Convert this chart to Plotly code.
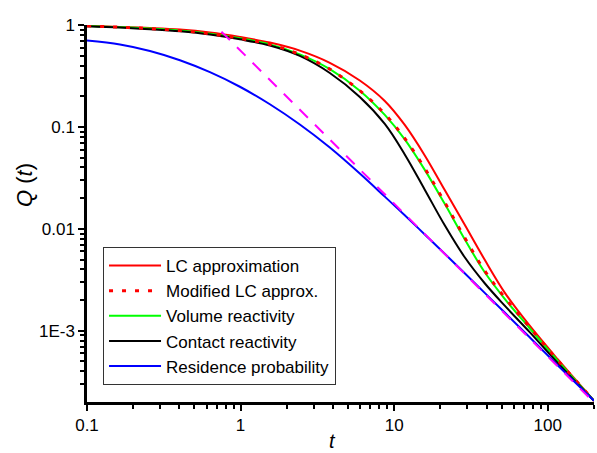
import math
import plotly.graph_objects as go

# ---- data (t, Q(t)) ----
t_grid = [0.1, 0.1639, 0.257, 0.4029, 0.6316, 0.9895, 1.551, 2.431, 3.811, 5.974, 8.687,
          11.72, 15.82, 21.34, 28.80, 38.86, 52.44, 76.27, 116.0, 200]

q_lc = [0.984, 0.958, 0.934, 0.901, 0.844, 0.763, 0.672, 0.560, 0.4254, 0.2857, 0.1798,
        0.1046, 0.0525, 0.0240, 0.01094, 0.00497, 0.00237, 0.00112, 0.000526, 0.000206]

q_mlc = [0.978, 0.9515, 0.922, 0.881, 0.820, 0.741, 0.645, 0.515, 0.3687, 0.2269, 0.1341,
         0.0771, 0.0392, 0.01819, 0.00818, 0.00388, 0.00212, 0.00108, 0.000514, 0.000206]

q_vr = [0.978, 0.9515, 0.922, 0.881, 0.820, 0.741, 0.645, 0.515, 0.3687, 0.2269, 0.1311,
        0.0754, 0.0379, 0.01758, 0.00789, 0.00375, 0.00206, 0.001058, 0.000508, 0.000206]

q_cr = [0.971, 0.943, 0.909, 0.868, 0.807, 0.724, 0.629, 0.497, 0.3383, 0.1968, 0.1070,
        0.0537, 0.0242, 0.01083, 0.00526, 0.002925, 0.001764, 0.000970, 0.000484, 0.000206]

q_rp = [0.705, 0.644, 0.556, 0.451, 0.3444, 0.2478, 0.1668, 0.1056, 0.0628, 0.0349, 0.0207,
        0.01357, 0.00881, 0.00570, 0.00367, 0.002355, 0.001508, 0.000862, 0.000459, 0.000206]

t_asym = [0.75, 200]
q_asym = [0.86, 0.000198]

names = ["LC approximation", "Modified LC approx.", "Volume reactivity",
         "Contact reactivity", "Residence probability"]

x_tickvals = [0.1, 1, 10, 100]
x_ticktext = ["0.1", "1", "10", "100"]
y_tickvals = [1, 0.1, 0.01, 0.001]
y_ticktext = ["1", "0.1", "0.01", "1E-3"]
mult = [2, 3, 4, 5, 6, 7, 8, 9]
x_minor = [m * d for d in [0.1, 1, 10] for m in mult] + [200]
y_minor = [m * d for d in [0.0001, 0.001, 0.01, 0.1] for m in mult if m * d > 0.00021]

FONT = "Liberation Sans, Arial, sans-serif"

fig = go.Figure()
fig.add_trace(go.Scatter(x=t_grid, y=q_lc, name=names[0], mode="lines", legendrank=1,
                         line=dict(color="#FF0000", width=2, shape="spline", smoothing=1)))
fig.add_trace(go.Scatter(x=t_grid, y=q_vr, name=names[2], mode="lines", legendrank=3,
                         line=dict(color="#00FF00", width=2, shape="spline", smoothing=1)))
fig.add_trace(go.Scatter(x=t_grid, y=q_cr, name=names[3], mode="lines", legendrank=4,
                         line=dict(color="#000000", width=2, shape="spline", smoothing=1)))
fig.add_trace(go.Scatter(x=t_grid, y=q_mlc, name=names[1], mode="lines", legendrank=2,
                         line=dict(color="#FF0000", width=3, dash="4px,9px",
                                   shape="spline", smoothing=1)))
fig.add_trace(go.Scatter(x=t_grid, y=q_rp, name=names[4], mode="lines", legendrank=5,
                         line=dict(color="#0000FF", width=2, shape="spline", smoothing=1)))
fig.add_trace(go.Scatter(x=t_asym, y=q_asym, name="asymptote", mode="lines", showlegend=False,
                         line=dict(color="#FF00FF", width=2, dash="12px,10px")))

axis_common = dict(type="log", showline=True, linecolor="black", linewidth=2.5,
                   ticks="outside", ticklen=6, tickwidth=2, tickcolor="black",
                   showgrid=False, zeroline=False, mirror=False,
                   tickfont=dict(family=FONT, size=17, color="black"))

fig.update_layout(
    width=597, height=453,
    margin=dict(l=87, r=3, t=25, b=51),
    paper_bgcolor="white", plot_bgcolor="white",
    font=dict(family=FONT, color="black"),
    xaxis=dict(range=[-1, math.log10(200)], tickmode="array", tickvals=x_tickvals,
               ticktext=x_ticktext,
               minor=dict(tickmode="array", tickvals=x_minor, ticks="outside", ticklen=4,
                          tickwidth=2, tickcolor="black", showgrid=False),
               **axis_common),
    yaxis=dict(range=[math.log10(0.0002), 0], tickmode="array", tickvals=y_tickvals,
               ticktext=y_ticktext,
               minor=dict(tickmode="array", tickvals=y_minor, ticks="outside", ticklen=4,
                          tickwidth=2, tickcolor="black", showgrid=False),
               **axis_common),
    legend=dict(x=0.0316, y=0.411, xanchor="left", yanchor="top",
                bgcolor="white", bordercolor="#333333", borderwidth=1,
                font=dict(family=FONT, size=17, color="black"),
                itemwidth=52, tracegroupgap=0, traceorder="normal"),
    showlegend=True,
    annotations=[
        dict(text="<i>t</i>", xref="paper", yref="paper", x=0.484, y=-0.1034,
             xanchor="center", yanchor="middle", showarrow=False,
             font=dict(family=FONT, size=20, color="black")),
        dict(text="<i>Q</i> (<i>t</i>)", xref="paper", yref="paper", x=-0.1223, y=0.5756,
             xanchor="center", yanchor="middle", showarrow=False, textangle=-90,
             font=dict(family=FONT, size=22, color="black")),
    ],
)

fig.write_html("out.html")
